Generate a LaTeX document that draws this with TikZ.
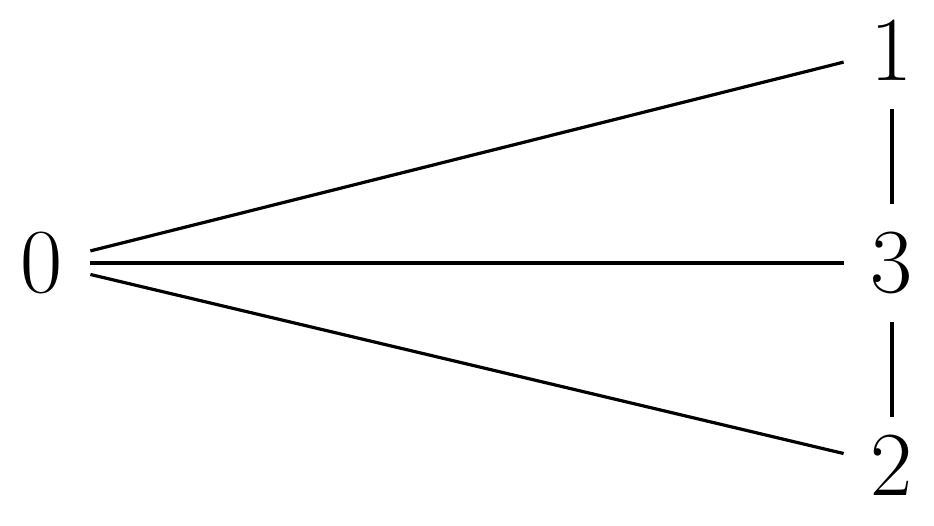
\documentclass[tikz,border=0pt]{standalone}
\begin{document}
\begin{tikzpicture}[x=0.5pt,y=-0.5pt,
  vert/.style={inner sep=0pt,minimum width=48pt,minimum height=59pt,font=\fontsize{45.8}{55}\selectfont},
  edge/.style={line width=1.6pt}]
\useasboundingbox (0,0) rectangle (934,526);
\node[vert] (n0) at (42,263) {0};
\node[vert] (n1) at (892,50) {1};
\node[vert] (n3) at (892,263) {3};
\node[vert,minimum height=48pt] (n2) at (892,465) {2};
\draw[edge] (n0) -- (n1);
\draw[edge] (n0) -- (n3);
\draw[edge] (n0) -- (n2);
\draw[edge] (n1) -- (n3);
\draw[edge] (n3) -- (n2);
\end{tikzpicture}
\end{document}
